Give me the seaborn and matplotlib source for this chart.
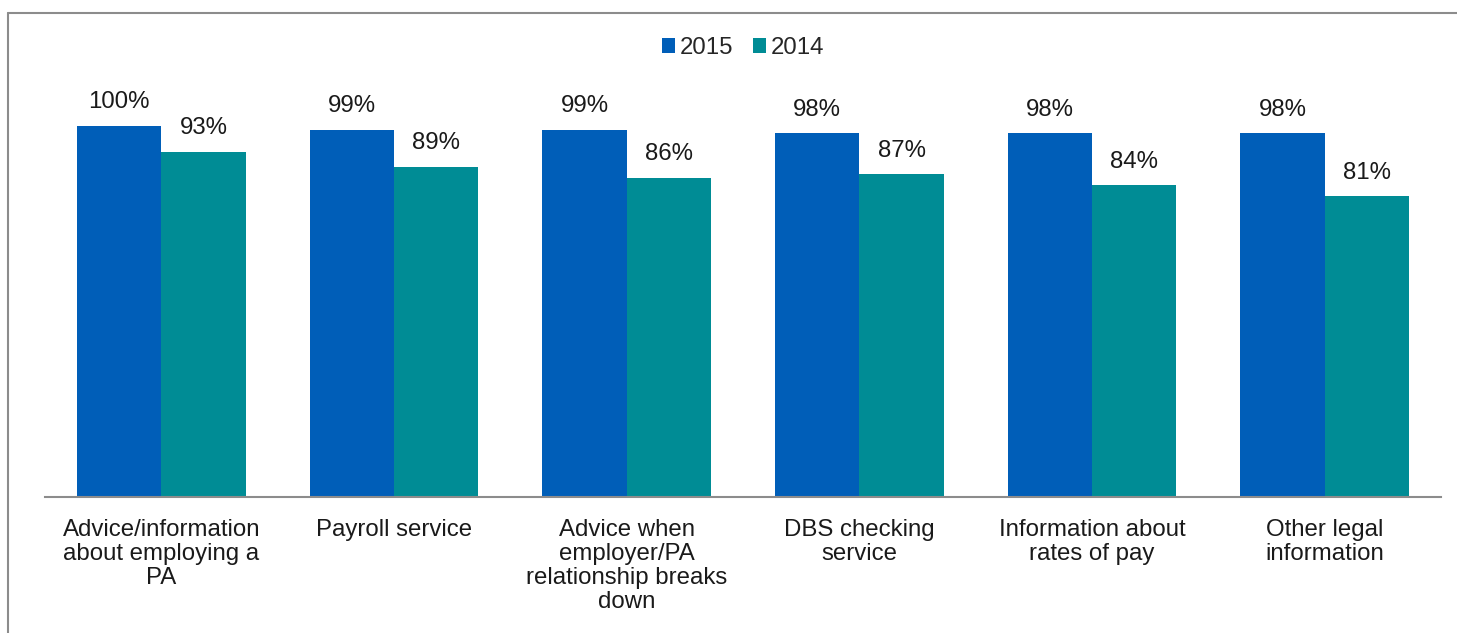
import matplotlib
matplotlib.use("Agg")
import matplotlib.pyplot as plt
import seaborn as sns
import pandas as pd
from matplotlib.lines import Line2D

categories = [
    "Advice/information\nabout employing a\nPA",
    "Payroll service",
    "Advice when\nemployer/PA\nrelationship breaks\ndown",
    "DBS checking\nservice",
    "Information about\nrates of pay",
    "Other legal\ninformation",
]
values_2015 = [100, 99, 99, 98, 98, 98]
values_2014 = [93, 89, 86, 87, 84, 81]
series = ["2015", "2014"]
colors = ["#005EB8", "#008C95"]

df = pd.DataFrame({
    "category": categories * 2,
    "year": [series[0]] * len(categories) + [series[1]] * len(categories),
    "value": values_2015 + values_2014,
})

sns.set_style("white")
plt.rcParams["font.family"] = ["Liberation Sans", "DejaVu Sans"]

FS = 17.3

fig = plt.figure(figsize=(14.57, 6.33), dpi=100)
ax = fig.add_axes([45 / 1457, (633 - 497) / 633, (1441 - 45) / 1457, (497 - 60) / 633])

sns.barplot(data=df, x="category", y="value", hue="year", hue_order=series,
            palette=colors, width=0.726, saturation=1, ax=ax, edgecolor="none")

for c in ax.containers:
    ax.bar_label(c, labels=[f"{v:.0f}%" for v in c.datavalues], padding=9, fontsize=FS, color="#1a1a1a")

ax.set_xlim(-0.5, len(categories) - 0.5)
ax.set_ylim(0, (497 - 60) / 371 * 100)
ax.set_yticks([])
ax.set_xlabel("")
ax.set_ylabel("")
for s in ["top", "right", "left"]:
    ax.spines[s].set_visible(False)
ax.spines["bottom"].set_color("#8c8c8c")
ax.spines["bottom"].set_linewidth(1.5)
ax.tick_params(axis="x", length=0, pad=16, labelsize=FS, labelcolor="#1a1a1a")
for t in ax.get_xticklabels():
    t.set_linespacing(1.12)
    t.set_verticalalignment("top")

leg = ax.legend(loc="center", bbox_to_anchor=(0.5, (633 - 48 - 136) / 437), ncol=2, frameon=False,
                fontsize=FS, handlelength=0.55, handleheight=0.55, handletextpad=0.2,
                columnspacing=0.8)

# outer frame
fig.add_artist(Line2D([8 / 1457, 8 / 1457], [0, 1 - 13 / 633], transform=fig.transFigure,
                      color="#8c8c8c", lw=1.5))
fig.add_artist(Line2D([8 / 1457, 1], [1 - 13 / 633, 1 - 13 / 633], transform=fig.transFigure,
                      color="#8c8c8c", lw=1.5))

fig.savefig("out.png", dpi=100)
